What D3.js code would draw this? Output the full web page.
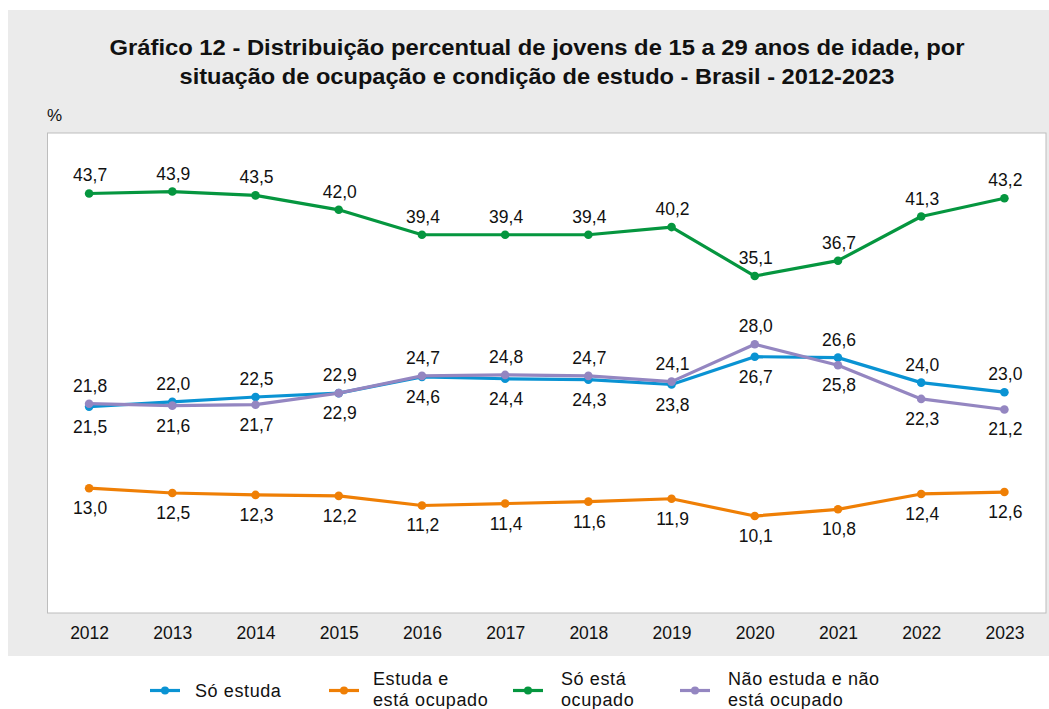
<!DOCTYPE html>
<html>
<head>
<meta charset="utf-8">
<script src="https://cdn.jsdelivr.net/npm/d3@7"></script>
<style>
  html, body { margin: 0; padding: 0; background: #fff; }
  svg { display: block; font-family: "Liberation Sans", Arial, sans-serif; }
</style>
</head>
<body>
<div id="chart"></div>
<script>
// ##################################
//  DATA
// ##################################
const years = [2012, 2013, 2014, 2015, 2016, 2017, 2018, 2019, 2020, 2021, 2022, 2023]
const soEstuda = [21.5, 22.0, 22.5, 22.9, 24.6, 24.4, 24.3, 23.8, 26.7, 26.6, 24.0, 23.0]
const estudaOcupado = [13.0, 12.5, 12.3, 12.2, 11.2, 11.4, 11.6, 11.9, 10.1, 10.8, 12.4, 12.6]
const soOcupado = [43.7, 43.9, 43.5, 42.0, 39.4, 39.4, 39.4, 40.2, 35.1, 36.7, 41.3, 43.2]
const naoEstudaNaoOcupado = [21.8, 21.6, 21.7, 22.9, 24.7, 24.8, 24.7, 24.1, 28.0, 25.8, 22.3, 21.2]

const seriesNames = [["Só estuda"], ["Estuda e", "está ocupado"], ["Só está", "ocupado"], ["Não estuda e não", "está ocupado"]]
const colors = ["#0a93d3", "#ef7f05", "#05963f", "#9486c1"]
const titleLines = [
  "Gráfico 12 - Distribuição percentual de jovens de 15 a 29 anos de idade, por",
  "situação de ocupação e condição de estudo - Brasil - 2012-2023",
]

// ##################################
//  CONSTANTS
// ##################################
const W = 1049, H = 709
const plot = { left: 47.5, right: 1046, top: 133, bottom: 613 }
const titleWidths = [855, 715]
const fmt = (v) => v.toFixed(1).replace(".", ",")

const svg = d3.select("#chart").append("svg").attr("width", W).attr("height", H)

// gray panel
svg.append("rect").attr("x", 8).attr("y", 10).attr("width", W - 8).attr("height", 646).attr("fill", "#ebebeb")

// title
svg.append("g")
  .selectAll("text")
  .data(titleLines)
  .join("text")
  .attr("x", 537)
  .attr("y", (d, i) => 55 + i * 29)
  .attr("text-anchor", "middle")
  .attr("font-size", 21.5)
  .attr("font-weight", "bold")
  .attr("fill", "#111")
  .attr("textLength", (d, i) => titleWidths[i])
  .attr("lengthAdjust", "spacingAndGlyphs")
  .text((d) => d)

svg.append("text").attr("x", 47).attr("y", 121).attr("font-size", 17).attr("fill", "#111").text("%")

// plot area
svg.append("rect")
  .attr("x", plot.left).attr("y", plot.top)
  .attr("width", plot.right - plot.left).attr("height", plot.bottom - plot.top)
  .attr("fill", "#fff").attr("stroke", "#bdbdbd").attr("stroke-width", 1)

const x = d3.scalePoint().domain(years).range([plot.left, plot.right]).padding(0.5)
const y = d3.scaleLinear().domain([0, 50]).range([plot.bottom, plot.top])

// x axis
svg.append("g")
  .attr("transform", `translate(0, ${plot.bottom})`)
  .call(d3.axisBottom(x).tickSize(0).tickPadding(14))
  .call((g) => g.select(".domain").remove())
  .call((g) => g.selectAll("text").attr("font-size", 17.5).attr("font-family", "Liberation Sans, Arial, sans-serif").attr("fill", "#111"))

// ##################################
//  LINES
// ##################################
const allSeries = [soEstuda, estudaOcupado, soOcupado, naoEstudaNaoOcupado]
// draw order: orange, green, blue, purple on top
const drawOrder = [1, 2, 0, 3]

const line = d3.line().x((d, i) => x(years[i])).y((d) => y(d))

drawOrder.forEach((s) => {
  const g = svg.append("g")
  g.append("path")
    .datum(allSeries[s])
    .attr("fill", "none")
    .attr("stroke", colors[s])
    .attr("stroke-width", 3.2)
    .attr("stroke-linejoin", "round")
    .attr("d", line)
  g.selectAll("circle")
    .data(allSeries[s])
    .join("circle")
    .attr("cx", (d, i) => x(years[i]))
    .attr("cy", (d) => y(d))
    .attr("r", 4.3)
    .attr("fill", colors[s])
})

// ##################################
//  LABELS
// ##################################
// above or below: green above, orange below, blue/purple by which is higher
const isAbove = (s, i) => {
  if (s === 2) return true
  if (s === 1) return false
  if (s === 0) return soEstuda[i] >= naoEstudaNaoOcupado[i]
  return naoEstudaNaoOcupado[i] > soEstuda[i]
}

allSeries.forEach((vals, s) => {
  svg.append("g")
    .selectAll("text")
    .data(vals)
    .join("text")
    .attr("x", (d, i) => x(years[i]) + 1)
    .attr("y", (d, i) => y(d) + (isAbove(s, i) ? -12 : 26))
    .attr("text-anchor", "middle")
    .attr("font-size", 17.5)
    .attr("fill", "#111")
    .text((d) => fmt(d))
})

// ##################################
//  LEGEND
// ##################################
const legendX = [150, 329, 513, 680]
const legend = svg.append("g")
seriesNames.forEach((lines, s) => {
  const g = legend.append("g").attr("transform", `translate(${legendX[s]}, 690.5)`)
  g.append("line").attr("x1", 0).attr("x2", 30).attr("stroke", colors[s]).attr("stroke-width", 3.2)
  g.append("circle").attr("cx", 15).attr("r", 4).attr("fill", colors[s])
  const startY = lines.length === 1 ? 6.5 : -5.5
  g.selectAll("text")
    .data(lines)
    .join("text")
    .attr("x", s === 0 ? 45 : s === 1 ? 44 : 48)
    .attr("y", (d, i) => startY + i * 21)
    .attr("font-size", 18)
    .attr("letter-spacing", 0.6)
    .attr("fill", "#111")
    .text((d) => d)
})
</script>
</body>
</html>
